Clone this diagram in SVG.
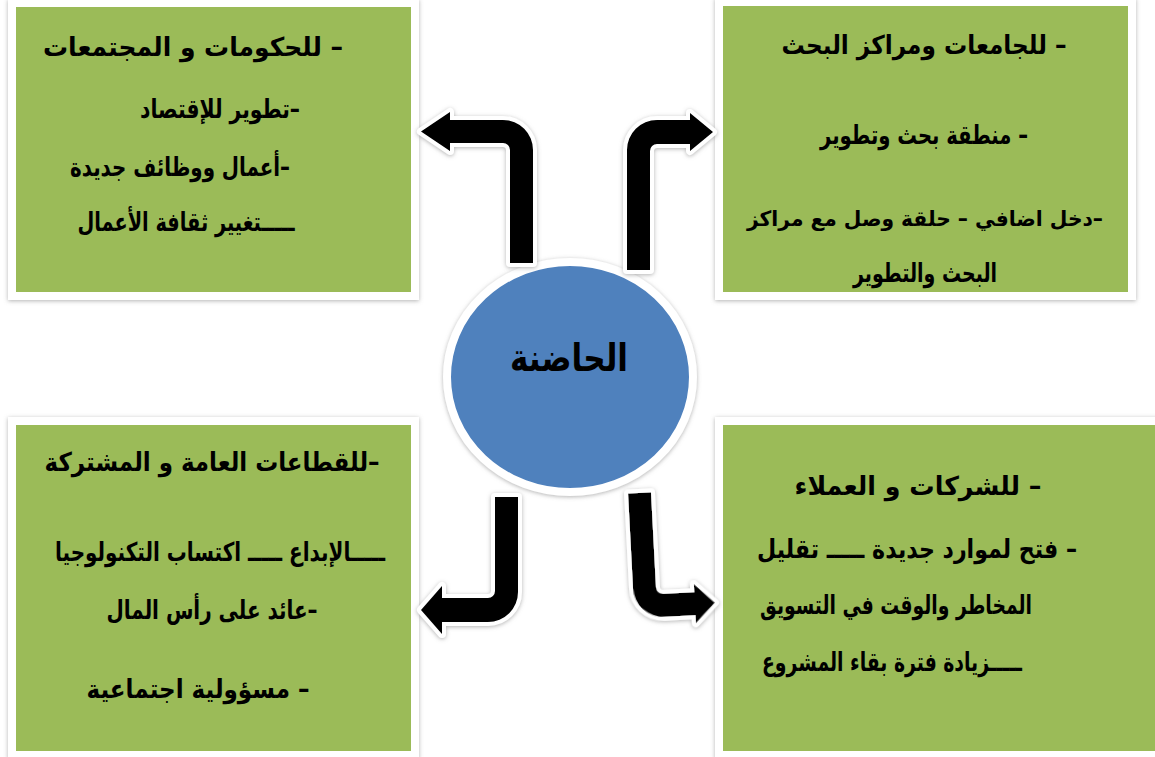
<svg xmlns="http://www.w3.org/2000/svg" width="1155" height="757" viewBox="0 0 1155 757">
<style>
.box{fill:#9BBB59;stroke:#ffffff;stroke-width:8;filter:url(#sh)}
.hub{fill:#4F81BD;stroke:#ffffff;stroke-width:8;filter:url(#sh)}
.arr{fill:#000000;stroke:#ffffff;stroke-width:8;stroke-linejoin:round;paint-order:stroke;filter:url(#sh)}
.t{font-family:"DejaVu Sans","Noto Sans",sans-serif;font-weight:bold;font-size:26px;fill:#000;text-anchor:middle;direction:rtl;unicode-bidi:embed}
.sm{font-size:21px}
.big{font-size:38px}
</style>
<defs>
<filter id="sh" x="-10%" y="-10%" width="120%" height="120%">
<feDropShadow dx="0" dy="1" stdDeviation="2" flood-color="#808080" flood-opacity="0.6"/>
</filter>
</defs>
<rect width="1155" height="757" fill="#ffffff"/>
<g id="node-governments">
<rect class="box" x="12" y="3" width="403" height="293"/>
<text class="t" x="193" y="56" textLength="300" lengthAdjust="spacingAndGlyphs">–   للحكومات و المجتمعات</text>
<text class="t" x="220" y="118" textLength="160" lengthAdjust="spacingAndGlyphs">–تطوير للإقتصاد</text>
<text class="t" x="180" y="176" textLength="220" lengthAdjust="spacingAndGlyphs">–أعمال ووظائف جديدة</text>
<text class="t" x="186" y="231" textLength="217" lengthAdjust="spacingAndGlyphs">ـــــتغيير ثقافة الأعمال</text>
</g>
<g id="node-universities">
<rect class="box" x="719" y="2" width="413" height="294"/>
<text class="t" x="924" y="54" textLength="285" lengthAdjust="spacingAndGlyphs">– للجامعات ومراكز البحث</text>
<text class="t" x="924" y="144" textLength="208" lengthAdjust="spacingAndGlyphs">– منطقة بحث وتطوير</text>
<text class="t sm" x="925" y="226" textLength="356" lengthAdjust="spacingAndGlyphs">–دخل اضافي – حلقة وصل مع مراكز</text>
<text class="t" x="925" y="282" textLength="144" lengthAdjust="spacingAndGlyphs">البحث والتطوير</text>
</g>
<g id="node-sectors">
<rect class="box" x="12" y="421" width="403" height="334"/>
<text class="t" x="212" y="471" textLength="335" lengthAdjust="spacingAndGlyphs">–للقطاعات العامة و المشتركة</text>
<text class="t" x="220" y="561" textLength="330" lengthAdjust="spacingAndGlyphs">ـــــالإبداع  ـــــ  اكتساب التكنولوجيا</text>
<text class="t" x="212" y="619" textLength="211" lengthAdjust="spacingAndGlyphs">–عائد على رأس المال</text>
<text class="t" x="198" y="698" textLength="223" lengthAdjust="spacingAndGlyphs">–   مسؤولية اجتماعية</text>
</g>
<g id="node-companies">
<rect class="box" x="719" y="421" width="450" height="334"/>
<text class="t" x="918" y="495" textLength="247" lengthAdjust="spacingAndGlyphs">–   للشركات و العملاء</text>
<text class="t" x="917" y="558" textLength="320" lengthAdjust="spacingAndGlyphs">–    فتح لموارد جديدة  ـــــ تقليل</text>
<text class="t" x="896" y="614" textLength="272" lengthAdjust="spacingAndGlyphs">المخاطر والوقت في التسويق</text>
<text class="t" x="892" y="671" textLength="260" lengthAdjust="spacingAndGlyphs">ـــــزيادة فترة بقاء المشروع</text>
</g>
<g id="node-incubator">
<ellipse class="hub" cx="570" cy="377" rx="123" ry="115"/>
<text class="t big" x="569" y="371" textLength="118" lengthAdjust="spacingAndGlyphs">الحاضنة</text>
</g>
<g id="connectors">
<path class="arr" d="M 510 263 L 510 150 A 7 7 0 0 0 503 143 L 450 143 L 450 151 L 421 131.5 L 450 112 L 450 120 L 503 120 A 30 30 0 0 1 533 150 L 533 263 Z"/>
<path class="arr" d="M 627 270 L 627 150 A 30 30 0 0 1 657 120 L 690 120 L 690 113 L 713 132 L 690 151 L 690 144 L 657 144 A 7 7 0 0 0 650 151 L 650 270 Z"/>
<path class="arr" d="M 495 497 L 518 497 L 518 592 A 30 30 0 0 1 488 622 L 442 622 L 442 634 L 421 610 L 442 586 L 442 598 L 488 598 A 7 7 0 0 0 495 591 Z"/>
<path class="arr" transform="rotate(-3 640 550)" d="M 631 493 L 654 493 L 654 588 A 7 7 0 0 0 661 595 L 692 595 L 692 587 L 712 606.5 L 692 626 L 692 618 L 661 618 A 30 30 0 0 1 631 588 Z"/>
</g>
</svg>
